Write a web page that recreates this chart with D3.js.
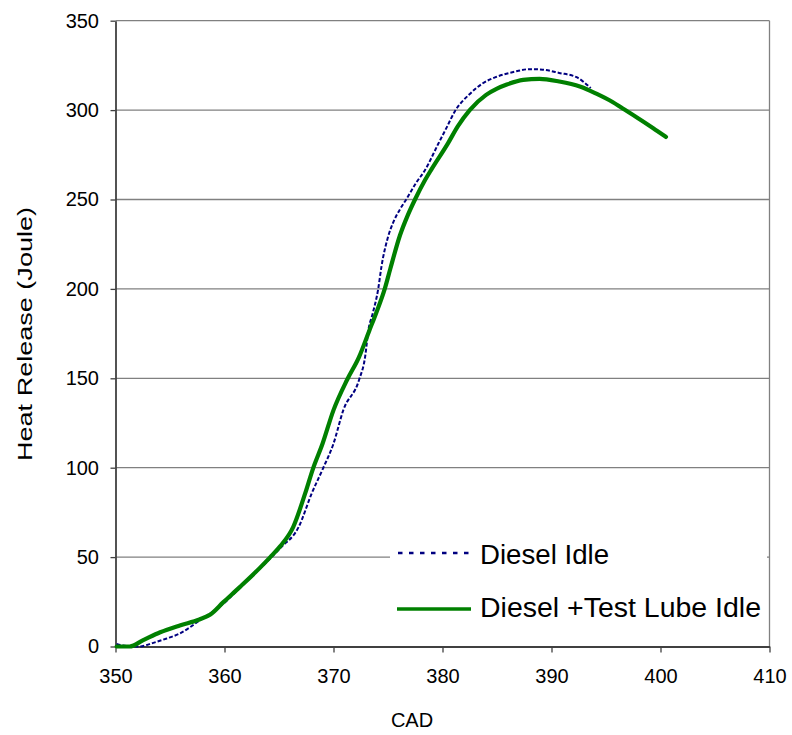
<!DOCTYPE html>
<html>
<head>
<meta charset="utf-8">
<script src="https://cdn.jsdelivr.net/npm/d3@7"></script>
<style>
  html, body { margin: 0; padding: 0; background: #fff; }
  svg { display: block; }
  text { font-family: "Liberation Sans", Arial, sans-serif; fill: #000; }
</style>
</head>
<body>
<svg id="chart" width="792" height="735"></svg>
<script>
// ---- data ----
const xTicks = [350, 360, 370, 380, 390, 400, 410];
const yTicks = [0, 50, 100, 150, 200, 250, 300, 350];

const seriesNames = ["Diesel Idle", "Diesel +Test Lube Idle"];

const cadDiesel = [350.1, 350.7, 352.2, 353.4, 354.7, 355.9, 356.8, 357.7, 358.7, 360.0, 361.4, 363.2, 365.1, 366.8, 368.0, 369.0, 370.0, 370.9, 372.35, 372.9, 373.2, 373.6, 374.1, 374.4, 375.0, 375.5, 376.1, 376.7, 377.6, 378.4, 379.6, 380.4, 381.1, 382.5, 383.7, 384.9, 386.5, 388.0, 389.2, 390.7, 392.3, 393.6];
const hrDiesel  = [1.5, 0.5, 0, 1.9, 4.5, 7.3, 10.6, 14.6, 18.5, 24.5, 32.8, 43.3, 55, 66.8, 85.6, 99.1, 113.5, 132.2, 149.2, 162, 176.9, 186.3, 199.9, 212.5, 229.0, 237.5, 244.5, 250.3, 259.5, 266.5, 281.0, 290.5, 299.0, 309.0, 315.0, 318.5, 321.3, 322.9, 322.6, 320.8, 318.4, 312.3];

const cadLube = [350.1, 351.3, 352.5, 354.1, 355.9, 357.7, 358.7, 359.9, 361.4, 363.2, 364.2, 365.1, 366.3, 367.4, 368.1, 369.0, 370.0, 371.25, 372.35, 373.3, 373.9, 374.7, 375.2, 376.1, 376.8, 377.5, 378.4, 379.0, 380.5, 381.4, 382.5, 384.0, 385.0, 385.9, 387.4, 388.9, 390.7, 392.6, 394.1, 395.6, 396.5, 397.8, 399.3, 400.5];
const hrLube  = [0, 0, 3.4, 8.0, 11.8, 15.1, 17.9, 24.8, 33.2, 43.7, 50, 56, 66.8, 85.6, 99.1, 113.5, 132.2, 149.2, 162, 176.9, 186.3, 200.0, 211.0, 230.0, 241.0, 250.3, 260.9, 267.0, 281.4, 290.9, 300, 308.5, 312.0, 314.3, 316.9, 317.5, 316.0, 313.2, 309.2, 304.5, 301.0, 296.0, 290.0, 285.0];

// ---- layout ----
const svg = d3.select("#chart");
const pLeft = 115.5, pRight = 769.5, pTop = 20.7, pBottom = 646.5;

const x = d3.scaleLinear().domain([350, 410]).range([pLeft, pRight]);
const y = d3.scaleLinear().domain([0, 350]).range([pBottom, pTop]);

// gridlines
svg.append("g").selectAll("line").data(yTicks.filter(d => d > 0)).join("line")
  .attr("x1", pLeft).attr("x2", pRight)
  .attr("y1", d => y(d)).attr("y2", d => y(d))
  .attr("stroke", "#808080").attr("stroke-width", 1.3);

// right border
svg.append("line").attr("x1", pRight).attr("x2", pRight).attr("y1", pTop).attr("y2", pBottom)
  .attr("stroke", "#808080").attr("stroke-width", 1.3);

// axes
const yAxis = d3.axisLeft(y).tickValues(yTicks).tickSize(5).tickSizeOuter(0).tickPadding(11).tickFormat(d3.format("d"));
const xAxis = d3.axisBottom(x).tickValues(xTicks).tickSize(6).tickSizeOuter(0).tickPadding(16).tickFormat(d3.format("d"));

const gy = svg.append("g").attr("transform", `translate(${pLeft},0)`).call(yAxis);
const gx = svg.append("g").attr("transform", `translate(0,${pBottom})`).call(xAxis);
[gy, gx].forEach(g => {
  g.select(".domain").attr("stroke", "#404040").attr("stroke-width", 1.8);
  g.selectAll(".tick line").attr("stroke", "#404040").attr("stroke-width", 1.3);
  g.selectAll(".tick text").style("font-size", "20px").style("font-family", '"Liberation Sans", Arial, sans-serif').attr("fill", "#000");
});
gy.selectAll(".tick text").attr("x", -16.5);

// lines
const line = d3.line().x(d => x(d[0])).y(d => y(d[1])).curve(d3.curveMonotoneX);
const dieselPts = cadDiesel.map((c, i) => [c, hrDiesel[i]]);
const lubePts = cadLube.map((c, i) => [c, hrLube[i]]);

svg.append("path").datum(dieselPts).attr("d", line)
  .attr("fill", "none").attr("stroke", "#000080").attr("stroke-width", 2)
  .attr("stroke-dasharray", "4,2");
svg.append("path").datum(lubePts).attr("d", line)
  .attr("fill", "none").attr("stroke", "#008000").attr("stroke-width", 4.2)
  .attr("stroke-linejoin", "round").attr("stroke-linecap", "round");

// legend
const lg = svg.append("g");
lg.append("rect").attr("x", 390).attr("y", 530).attr("width", 377).attr("height", 110).attr("fill", "#fff");
lg.append("line").attr("x1", 398).attr("x2", 471).attr("y1", 553).attr("y2", 553)
  .attr("stroke", "#000080").attr("stroke-width", 2.5).attr("stroke-dasharray", "4.5,6.5");
lg.append("line").attr("x1", 397).attr("x2", 471).attr("y1", 609).attr("y2", 609)
  .attr("stroke", "#008000").attr("stroke-width", 3.5);
lg.append("text").attr("x", 480).attr("y", 563.5).style("font-size", "27px")
  .attr("textLength", 129).attr("lengthAdjust", "spacingAndGlyphs").text(seriesNames[0]);
lg.append("text").attr("x", 480).attr("y", 617).style("font-size", "27px")
  .attr("textLength", 281).attr("lengthAdjust", "spacingAndGlyphs").text(seriesNames[1]);

// axis titles
svg.append("text").attr("x", 412).attr("y", 727).attr("text-anchor", "middle")
  .style("font-size", "20px").text("CAD");
svg.append("text").attr("transform", `translate(32,334) rotate(-90)`)
  .attr("text-anchor", "middle").style("font-size", "20px")
  .attr("textLength", 254).attr("lengthAdjust", "spacingAndGlyphs")
  .text("Heat Release (Joule)");
</script>
</body>
</html>
